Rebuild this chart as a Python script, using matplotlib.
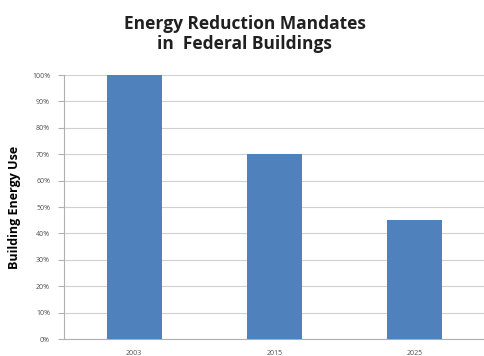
import matplotlib
matplotlib.use("Agg")
import matplotlib.pyplot as plt
from matplotlib.ticker import PercentFormatter

years = ["2003", "2015", "2025"]
energy_use = [100, 70, 45]
yticks = list(range(0, 101, 10))

fig = plt.figure(figsize=(4.85, 3.56), dpi=100)
ax = fig.add_axes([64/485, 1-339/356, 1-64/485, (339-75)/356])

x = list(range(len(years)))
ax.bar(x, energy_use, width=0.39, color="#4F81BD", zorder=3)
ax.set_xlim(-0.5, 2.5)
ax.set_ylim(0, 100)
ax.set_yticks(yticks)
ax.yaxis.set_major_formatter(PercentFormatter(decimals=0))
ax.set_xticks(x)
ax.set_xticklabels(years)
ax.grid(axis="y", color="#D0D0D0", linewidth=0.8, zorder=0)
for s in ["top", "right"]:
    ax.spines[s].set_visible(False)
for s in ["left", "bottom"]:
    ax.spines[s].set_color("#B0B0B0")
    ax.spines[s].set_linewidth(0.8)
ax.tick_params(axis="y", labelsize=5, colors="#B0B0B0", labelcolor="#505050", length=4, width=0.8, pad=6)
ax.tick_params(axis="x", labelsize=5, length=0, labelcolor="#505050", pad=8)
for lab in ax.get_yticklabels() + ax.get_xticklabels():
    lab.set_family("Open Sans")
ax.set_ylabel("Building Energy Use", fontsize=9, fontweight="bold", family="Open Sans", labelpad=8)

fig.text(0.505, 1-34/356, "Energy Reduction Mandates\nin  Federal Buildings", ha="center", va="center",
         fontsize=12.5, fontweight="bold", family="Open Sans", linespacing=1.2, color="#202020")

fig.savefig("out.png", dpi=100)
